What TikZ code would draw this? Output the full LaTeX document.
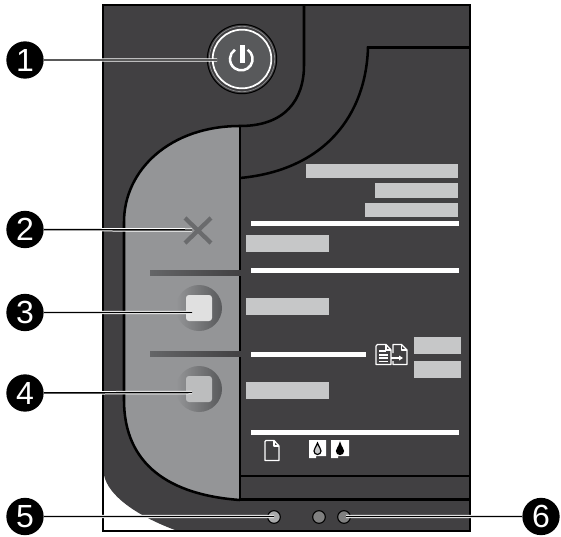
\documentclass[tikz,border=0pt]{standalone}
\usepackage{fontspec}
\setmainfont{Liberation Sans}
\definecolor{body}{HTML}{414042}
\definecolor{panel}{HTML}{949597}
\definecolor{bar}{HTML}{C6C7C8}
\definecolor{mid}{HTML}{58595B}
\tikzset{
  edge/.style={draw=black,line width=1.9pt},
  greybar/.style={fill=bar,draw=none},
  whitebar/.style={fill=white,draw=none},
  darkbar/.style={left color=mid!80!panel,right color=body,draw=none},
  callout/.style={circle,fill=black,text=white,inner sep=0pt,minimum size=28pt,font=\fontsize{24}{24}\selectfont},
  ico/.style={draw=white,line width=1pt,line join=round,fill=none},
  led/.style={circle,draw=black,line width=.8pt,minimum size=9.5pt,inner sep=0pt},
  softbtn/.style={circle,left color=panel,right color=mid,draw=none,minimum size=34.5pt,inner sep=0pt},
  softkey/.style={rounded corners=2.2pt,draw=none,minimum size=19.5pt,inner sep=0pt},
}
\begin{document}
\begin{tikzpicture}[x=0.75pt,y=-0.75pt]
\useasboundingbox (0,0) rectangle (561,536);
% body
\fill[body] (104,5) -- (469,5) -- (469,530) -- (175,530) .. controls (135,515) and (108,495) .. (104,475) -- cycle;
% grey panel
\path[fill=panel] (240,126) .. controls (170,126) and (124,170) .. (124,222)
  -- (124,400) .. controls (124,465) and (170,495) .. (240,500) -- cycle;
% edges
\draw[edge] (240,126) .. controls (170,126) and (124,170) .. (124,222)
  -- (124,400) .. controls (124,465) and (170,495) .. (240,500);
\draw[edge] (240,126) .. controls (285,126) and (304,100) .. (304,65) -- (304,5);
\draw[edge] (469,47.5) -- (368,47.5) .. controls (366,115) and (325,170) .. (240,178);
\draw[edge] (240,126) -- (240,500);
\draw[edge] (240,476) -- (469,476);
\draw[edge] (240,499.5) -- (469,499.5);
\draw[black,line width=2.2pt] (103,5) -- (470,5) -- (470,531) -- (103,531) -- cycle;
% grey bars
\fill[greybar] (306,164) rectangle (458,178);
\fill[greybar] (375,183) rectangle (458,198);
\fill[greybar] (365,203) rectangle (458,217);
\fill[greybar] (246,235) rectangle (329,252);
\fill[greybar] (246,298) rectangle (329,315);
\fill[greybar] (246,382) rectangle (329,399);
\fill[greybar] (414,337) rectangle (461,354);
\fill[greybar] (414,361) rectangle (461,378);
% white bars
\fill[whitebar] (251,221) rectangle (459,226);
\fill[whitebar] (251,268) rectangle (459,273);
\fill[whitebar] (251,352) rectangle (366,357);
\fill[whitebar] (251,430) rectangle (459,435);
% dark bars in panel
\fill[darkbar] (150,270) rectangle (241,275);
\fill[darkbar] (150,351) rectangle (241,356);
% power button
\node[circle,fill=body,draw=black,line width=.8pt,minimum size=52pt,inner sep=0pt] (power) at (242,59) {};
\node[circle,draw=mid!70!white,line width=.5pt,minimum size=49pt,inner sep=0pt] (powermid) at (242,59) {};
\node[circle,fill=mid,draw=white,line width=1.3pt,minimum size=44pt,inner sep=0pt] (powerin) at (242,59) {};
\draw[white,line width=1.9pt] (247.6,49.7) arc[start angle=-56,end angle=236,radius=11.3];
\fill[white] (239.5,45) rectangle (244.5,63);
% cancel
\draw[line width=3.2pt,draw=mid!70!panel] (185,218) -- (211,243) (211,218) -- (185,243);
% buttons
\node[softbtn] (b3) at (199,308) {};
\node[softkey,fill=black!12] (k3) at (199,308) {};
\node[softbtn] (b4) at (199,389) {};
\node[softkey,fill=bar!95!black] (k4) at (199,389) {};
% copy icon
\draw[ico] (376,346) -- (376,364.5) -- (391,364.5) -- (391,350) -- (386,344.5) -- (377.5,344.5) -- (376,346);
\draw[ico] (386,344.5) -- (386,350) -- (391,350);
\draw[white,line width=.8pt] (379,351) -- (386,351) (379,355) -- (388,355) (379,358) -- (388,358) (379,361.5) -- (388,361.5);
\draw[ico] (393,353) -- (393,344.5) -- (401.5,344.5) -- (407,350) -- (407,364.5) -- (393,364.5) -- (393,361);
\draw[ico] (401.5,344.5) -- (401.5,350) -- (407,350);
\draw[white,line width=.9pt] (391,358) -- (400,358);
\fill[white] (399,355.5) -- (403,358) -- (399,360.5) -- cycle;
% paper icon
\draw[ico] (265,441.5) -- (265,460.5) -- (279,460.5) -- (279,446) -- (274,440.5) -- (266,440.5) -- cycle;
\draw[ico] (274,440.5) -- (274,446) -- (279,446);
% ink icons
\fill[white] (309,440) -- (326,440) -- (326,456) -- (316,456) -- (316,458) -- (309,458) -- cycle;
\fill[white] (331,440) -- (349,440) -- (349,456) -- (338,456) -- (338,458) -- (331,458) -- cycle;
\draw[black,line width=.9pt,fill=bar] (317.5,443) .. controls (316,447) and (314,449) .. (314,451) arc[start angle=180,end angle=0,radius=3.5] .. controls (321,449) and (319,447) .. (317.5,443) -- cycle;
\draw[black,line width=.9pt,fill=black] (340,443) .. controls (339,447) and (336.5,449) .. (336.5,451) arc[start angle=180,end angle=0,radius=3.5] .. controls (343.5,449) and (341,447) .. (340,443) -- cycle;
% LEDs
\node[led,fill=bar!85!black] (l5) at (274,517) {};
\node[led,fill=black!50] (l0) at (319,517) {};
\node[led,fill=black!50] (l6) at (344,517) {};
% callouts
\node[callout] (c1) at (25,60) {1};
\node[callout] (c2) at (25,229.5) {2};
\node[callout] (c3) at (25,312.5) {3};
\node[callout] (c4) at (25,393) {4};
\node[callout] (c5) at (25,516.5) {5};
\node[callout] (c6) at (541,516.5) {6};
\coordinate (t1) at (217,60);
\coordinate (t2) at (192,230);
\coordinate (t3) at (192,312.5);
\coordinate (t4) at (192,392.5);
\coordinate (t5) at (274,516.5);
\coordinate (t6) at (346,516.5);
\draw[white,line width=2.6pt] (c1) -- (t1) (c2) -- (t2) (c3) -- (t3) (c4) -- (t4) (c5) -- (t5) (c6) -- (t6);
\draw[black,line width=1.1pt] (c1) -- (t1) (c2) -- (t2) (c3) -- (t3) (c4) -- (t4) (c5) -- (t5) (c6) -- (t6);
\end{tikzpicture}
\end{document}
